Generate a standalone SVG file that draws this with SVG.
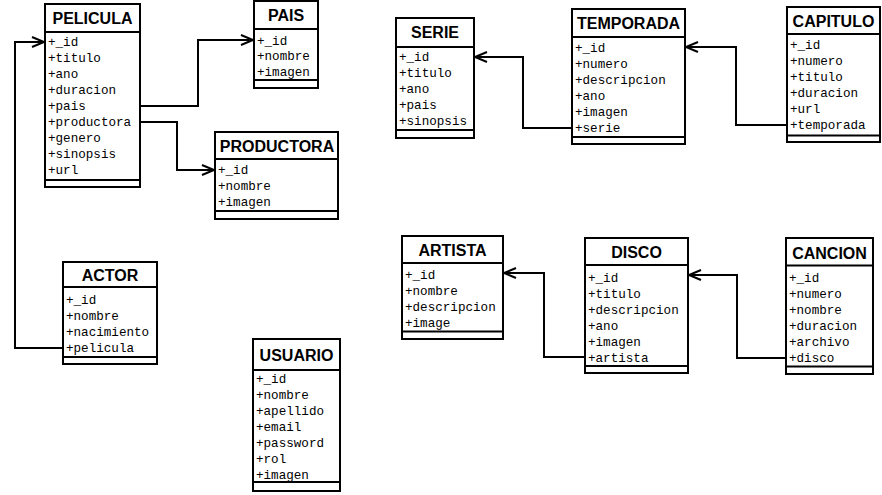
<svg xmlns="http://www.w3.org/2000/svg" width="882" height="495" viewBox="0 0 882 495">
<defs>
<style>
.box{fill:#fff;stroke:#000;stroke-width:2}
.ln{stroke:#000;stroke-width:2}
.t{font-family:"Liberation Sans",Arial,sans-serif;font-weight:bold;font-size:16px;text-anchor:middle;fill:#000}
.a{font-family:"Liberation Mono","Courier New",monospace;font-size:12.6px;fill:#000}
.c{fill:none;stroke:#000;stroke-width:2}
</style>
<marker id="arr" viewBox="-14 -7 16 14" refX="0" refY="0" markerWidth="16" markerHeight="14" orient="auto" markerUnits="userSpaceOnUse">
<path d="M-12,-5 L0,0 L-12,5" fill="none" stroke="#000" stroke-width="2"/>
</marker>
</defs>
<rect width="882" height="495" fill="#fff"/>

<g id="connectors">
<path class="c" d="M140,106 H198 V40 H253" marker-end="url(#arr)"/>
<path class="c" d="M140,122 H177 V170 H214" marker-end="url(#arr)"/>
<path class="c" d="M63,348 H15 V42 H44" marker-end="url(#arr)"/>
<path class="c" d="M572,128 H523 V57 H475" marker-end="url(#arr)"/>
<path class="c" d="M787,125 H736 V47 H686" marker-end="url(#arr)"/>
<path class="c" d="M585,357 H544 V273 H504" marker-end="url(#arr)"/>
<path class="c" d="M786,358 H737 V275 H689" marker-end="url(#arr)"/>
</g>

<g id="PELICULA">
<rect class="box" x="45" y="4" width="95" height="183"/>
<line class="ln" x1="45" y1="32" x2="140" y2="32"/>
<line class="ln" x1="45" y1="180" x2="140" y2="180"/>
<text class="t" x="92.5" y="24">PELICULA</text>
<text class="a" x="48" y="46">+_id</text>
<text class="a" x="48" y="62">+titulo</text>
<text class="a" x="48" y="78">+ano</text>
<text class="a" x="48" y="94">+duracion</text>
<text class="a" x="48" y="110">+pais</text>
<text class="a" x="48" y="126">+productora</text>
<text class="a" x="48" y="142">+genero</text>
<text class="a" x="48" y="158">+sinopsis</text>
<text class="a" x="48" y="174">+url</text>
</g>

<g id="PAIS">
<rect class="box" x="254" y="1" width="64" height="87"/>
<line class="ln" x1="254" y1="29" x2="318" y2="29"/>
<line class="ln" x1="254" y1="80" x2="318" y2="80"/>
<text class="t" x="286" y="21">PAIS</text>
<text class="a" x="257" y="45">+_id</text>
<text class="a" x="257" y="60">+nombre</text>
<text class="a" x="257" y="76">+imagen</text>
</g>

<g id="PRODUCTORA">
<rect class="box" x="215" y="132" width="123" height="87"/>
<line class="ln" x1="215" y1="159" x2="338" y2="159"/>
<line class="ln" x1="215" y1="211" x2="338" y2="211"/>
<text class="t" x="277" y="152">PRODUCTORA</text>
<text class="a" x="218" y="174">+_id</text>
<text class="a" x="218" y="190">+nombre</text>
<text class="a" x="218" y="206">+imagen</text>
</g>

<g id="ACTOR">
<rect class="box" x="63" y="262" width="94" height="102"/>
<line class="ln" x1="63" y1="287" x2="157" y2="287"/>
<line class="ln" x1="63" y1="357" x2="157" y2="357"/>
<text class="t" x="110" y="281">ACTOR</text>
<text class="a" x="66" y="304">+_id</text>
<text class="a" x="66" y="320">+nombre</text>
<text class="a" x="66" y="336">+nacimiento</text>
<text class="a" x="66" y="352">+pelicula</text>
</g>

<g id="USUARIO">
<rect class="box" x="253" y="339" width="87" height="152"/>
<line class="ln" x1="253" y1="370" x2="340" y2="370"/>
<line class="ln" x1="253" y1="482" x2="340" y2="482"/>
<text class="t" x="296.5" y="361">USUARIO</text>
<text class="a" x="256" y="383">+_id</text>
<text class="a" x="256" y="399">+nombre</text>
<text class="a" x="256" y="415">+apellido</text>
<text class="a" x="256" y="431">+email</text>
<text class="a" x="256" y="447">+password</text>
<text class="a" x="256" y="463">+rol</text>
<text class="a" x="256" y="479">+imagen</text>
</g>

<g id="SERIE">
<rect class="box" x="396" y="18" width="78" height="120"/>
<line class="ln" x1="396" y1="47" x2="474" y2="47"/>
<line class="ln" x1="396" y1="130" x2="474" y2="130"/>
<text class="t" x="435" y="38">SERIE</text>
<text class="a" x="399" y="61">+_id</text>
<text class="a" x="399" y="77">+titulo</text>
<text class="a" x="399" y="93">+ano</text>
<text class="a" x="399" y="109">+pais</text>
<text class="a" x="399" y="125">+sinopsis</text>
</g>

<g id="TEMPORADA">
<rect class="box" x="572" y="9" width="113" height="135"/>
<line class="ln" x1="572" y1="37" x2="685" y2="37"/>
<line class="ln" x1="572" y1="137" x2="685" y2="137"/>
<text class="t" x="628.5" y="29">TEMPORADA</text>
<text class="a" x="575" y="52">+_id</text>
<text class="a" x="575" y="68">+numero</text>
<text class="a" x="575" y="84">+descripcion</text>
<text class="a" x="575" y="100">+ano</text>
<text class="a" x="575" y="116">+imagen</text>
<text class="a" x="575" y="132">+serie</text>
</g>

<g id="CAPITULO">
<rect class="box" x="787" y="7" width="93" height="135"/>
<line class="ln" x1="787" y1="34" x2="880" y2="34"/>
<line class="ln" x1="787" y1="135.5" x2="880" y2="135.5"/>
<text class="t" x="833.5" y="27">CAPITULO</text>
<text class="a" x="790" y="49">+_id</text>
<text class="a" x="790" y="65">+numero</text>
<text class="a" x="790" y="81">+titulo</text>
<text class="a" x="790" y="97">+duracion</text>
<text class="a" x="790" y="113">+url</text>
<text class="a" x="790" y="129">+temporada</text>
</g>

<g id="ARTISTA">
<rect class="box" x="402" y="236" width="101" height="103"/>
<line class="ln" x1="402" y1="263" x2="503" y2="263"/>
<line class="ln" x1="402" y1="331.5" x2="503" y2="331.5"/>
<text class="t" x="452.5" y="256">ARTISTA</text>
<text class="a" x="405" y="279">+_id</text>
<text class="a" x="405" y="295">+nombre</text>
<text class="a" x="405" y="311">+descripcion</text>
<text class="a" x="405" y="327">+image</text>
</g>

<g id="DISCO">
<rect class="box" x="585" y="238" width="103" height="135"/>
<line class="ln" x1="585" y1="265" x2="688" y2="265"/>
<line class="ln" x1="585" y1="366" x2="688" y2="366"/>
<text class="t" x="636.5" y="258">DISCO</text>
<text class="a" x="588" y="281.5">+_id</text>
<text class="a" x="588" y="297.5">+titulo</text>
<text class="a" x="588" y="313.5">+descripcion</text>
<text class="a" x="588" y="329.5">+ano</text>
<text class="a" x="588" y="345.5">+imagen</text>
<text class="a" x="588" y="361.5">+artista</text>
</g>

<g id="CANCION">
<rect class="box" x="786" y="238" width="87" height="136"/>
<line class="ln" x1="786" y1="265.5" x2="873" y2="265.5"/>
<line class="ln" x1="786" y1="366.5" x2="873" y2="366.5"/>
<text class="t" x="829.5" y="259">CANCION</text>
<text class="a" x="789" y="282">+_id</text>
<text class="a" x="789" y="298">+numero</text>
<text class="a" x="789" y="314">+nombre</text>
<text class="a" x="789" y="330">+duracion</text>
<text class="a" x="789" y="346">+archivo</text>
<text class="a" x="789" y="362">+disco</text>
</g>
</svg>
